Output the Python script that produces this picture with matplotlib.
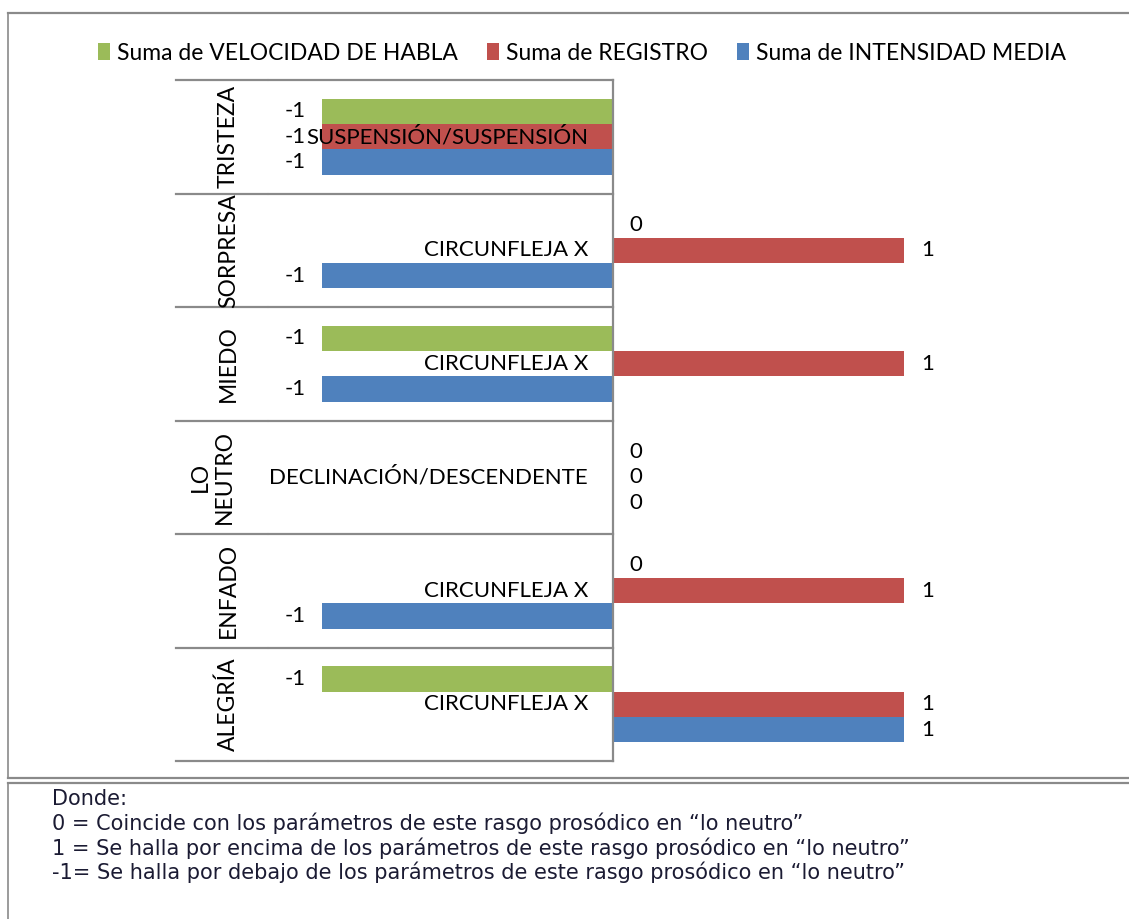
import matplotlib
matplotlib.use('Agg')
import matplotlib.pyplot as plt
from matplotlib.patches import Patch
from matplotlib.lines import Line2D

# ---------------- data ----------------
emotions = ['TRISTEZA', 'SORPRESA', 'MIEDO', 'LO\nNEUTRO', 'ENFADO', 'ALEGRÍA']
patterns = ['SUSPENSIÓN/SUSPENSIÓN', 'CIRCUNFLEJA X', 'CIRCUNFLEJA X',
            'DECLINACIÓN/DESCENDENTE', 'CIRCUNFLEJA X', 'CIRCUNFLEJA X']
velocidad = [-1, 0, -1, 0, 0, -1]
registro = [-1, 1, 1, 0, 1, 1]
intensidad = [-1, -1, -1, 0, -1, 1]
series_names = ['Suma de VELOCIDAD DE HABLA', 'Suma de REGISTRO', 'Suma de INTENSIDAD MEDIA']
series_values = [velocidad, registro, intensidad]
colors = ['#9BBB59', '#C0504D', '#4F81BD']
notes = ['Donde:',
         '0 = Coincide con los parámetros de este rasgo prosódico en “lo neutro”',
         '1 = Se halla por encima de los parámetros de este rasgo prosódico en “lo neutro”',
         '-1= Se halla por debajo de los parámetros de este rasgo prosódico en “lo neutro”']

# ---------------- figure ----------------
W, H, DPI = 1129, 919, 100
plt.rcParams['font.family'] = ['Lato', 'DejaVu Sans']
fig = plt.figure(figsize=(W / DPI, H / DPI), dpi=DPI)
FS = 16
GRAY = '#8a8a8a'

def fx(px):
    return px / W

def fy(py):
    return 1 - py / H

# frames
fig.add_artist(Line2D([fx(8), 1], [fy(13), fy(13)], color=GRAY, lw=1.6))
fig.add_artist(Line2D([fx(8), fx(8)], [fy(13), fy(778)], color=GRAY, lw=1.2))
fig.add_artist(Line2D([fx(8), 1], [fy(778), fy(778)], color=GRAY, lw=1.6))
fig.add_artist(Line2D([fx(8), 1], [fy(783), fy(783)], color=GRAY, lw=1.6))
fig.add_artist(Line2D([fx(8), fx(8)], [fy(783), 0], color=GRAY, lw=1.2))

# axes
ax = fig.add_axes([fx(176), fy(761), fx(1050) - fx(176), fy(80) - fy(761)])
ax.set_xlim(-1.5, 1.5)
ax.set_ylim(len(emotions) - 0.5, -0.5)
ax.axis('off')

h = 0.223
offsets = [-h, 0, h]
for vals, off, col in zip(series_values, offsets, colors):
    ys = [i + off for i in range(len(vals))]
    ax.barh(ys, vals, height=h, color=col, edgecolor='none', zorder=2)
    for y, v in zip(ys, vals):
        if v < 0:
            ax.annotate(f'{v}', (v, y), xytext=(-11.5, 0), textcoords='offset points',
                        ha='right', va='center', fontsize=FS, zorder=4)
        else:
            ax.annotate(f'{v}', (v, y), xytext=(12, 0), textcoords='offset points',
                        ha='left', va='center', fontsize=FS, zorder=4)

# axis line at zero
ax.plot([0, 0], [-0.5, len(emotions) - 0.5], color=GRAY, lw=1.6, zorder=3, clip_on=False)
# category separators
split = (268 - 613) / 291.5
for b in range(len(emotions) + 1):
    yb = b - 0.5
    ax.plot([-1.5, split - 0.003], [yb, yb], color=GRAY, lw=1.6, zorder=3, clip_on=False)
    ax.plot([split + 0.003, 0], [yb, yb], color=GRAY, lw=1.6, zorder=3, clip_on=False)

# category labels
for i, (e, p) in enumerate(zip(emotions, patterns)):
    ax.annotate(p, (0, i), xytext=(-18, 0), textcoords='offset points',
                ha='right', va='center', fontsize=FS, zorder=5)
    ex = (228 - 613) / 291.5 if '\n' not in e else (212 - 613) / 291.5
    ax.text(ex, i, e, rotation=90, ha='center', va='center', fontsize=16.5,
            multialignment='center', linespacing=1.15, zorder=5)

# legend
handles = [Patch(facecolor=c, edgecolor='none') for c in colors]
fig.legend(handles, series_names, loc='center', bbox_to_anchor=(fx(582), fy(53)),
           ncol=3, frameon=False, fontsize=16.5, handlelength=0.55, handleheight=0.75,
           handletextpad=0.3, columnspacing=1.25, borderaxespad=0)

# notes
for k, line in enumerate(notes):
    fig.text(fx(52), fy(799 + 24.5 * k), line, ha='left', va='center', fontsize=15,
             color='#1b1b33', family=['DejaVu Sans'])

fig.savefig('out.png', dpi=DPI)
